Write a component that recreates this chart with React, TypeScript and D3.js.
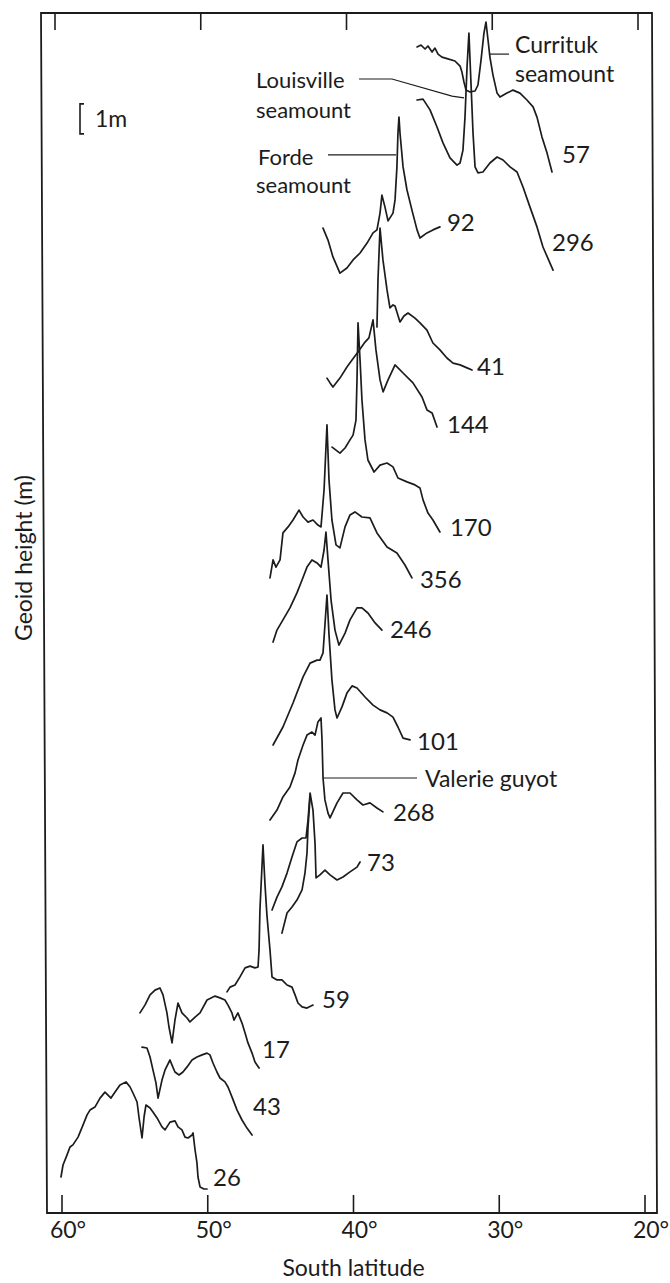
import React from "react";
import * as d3 from "d3";

type Pt = [number, number]; // [south latitude (deg), geoid height (m, stacked offset)]

const LAT_TICKS = [60, 50, 40, 30, 20];

const P57: Pt[] = [[35.64,38.87],[35.37,38.93],[35.09,38.80],[34.89,38.90],[34.61,38.70],[34.41,38.83],[34.20,38.63],[33.93,38.53],[33.52,38.47],[33.04,38.40],[32.69,38.23],[32.56,38.03],[32.42,37.70],[32.28,37.43],[32.01,37.37],[31.66,37.40],[31.46,37.60],[31.25,38.43],[31.05,39.33],[30.91,39.70],[30.77,39.10],[30.64,38.53],[30.43,37.93],[30.15,37.33],[29.95,37.20],[29.47,37.33],[29.06,37.43],[28.58,37.33],[28.10,37.10],[27.68,36.87],[27.41,36.53],[27.07,35.87],[26.72,35.33],[26.38,34.70]];
const P296: Pt[] = [[35.64,37.10],[35.23,37.13],[34.75,36.77],[34.27,36.20],[33.86,35.67],[33.38,35.17],[32.90,34.93],[32.69,35.00],[32.49,35.43],[32.35,36.53],[32.21,38.20],[32.08,39.33],[31.94,37.67],[31.80,36.00],[31.66,34.87],[31.46,34.67],[31.12,34.70],[30.64,35.00],[30.15,35.20],[29.74,35.10],[29.26,34.87],[28.78,34.70],[28.37,34.20],[27.89,33.53],[27.41,32.87],[27.00,32.20],[26.31,31.43]];
const P92: Pt[] = [[42.09,32.83],[41.75,32.43],[41.41,31.87],[40.93,31.33],[40.45,31.50],[40.03,31.77],[39.55,32.00],[39.07,32.33],[38.66,32.67],[38.39,32.77],[38.18,33.33],[38.05,33.93],[37.84,33.53],[37.63,33.07],[37.29,33.33],[37.15,33.77],[37.02,34.87],[36.95,36.00],[36.88,36.53],[36.81,36.00],[36.60,34.87],[36.33,34.10],[35.99,33.43],[35.64,32.77],[35.44,32.50],[34.96,32.67],[34.55,32.77],[34.07,32.87]];
const P41: Pt[] = [[38.39,29.53],[38.32,31.10],[38.18,32.83],[37.98,31.77],[37.70,30.77],[37.50,30.17],[37.29,30.27],[37.15,30.23],[36.81,29.70],[36.54,29.90],[36.26,30.00],[35.78,29.83],[35.44,29.67],[34.96,29.43],[34.55,29.00],[34.07,28.77],[33.59,28.50],[33.17,28.33],[32.69,28.27],[32.21,28.17],[31.87,28.10]];
const P144: Pt[] = [[41.82,27.83],[41.61,27.67],[41.41,27.53],[40.93,27.83],[40.45,28.20],[40.10,28.43],[39.69,28.70],[39.21,29.03],[38.94,29.17],[38.66,29.77],[38.46,28.77],[38.18,27.77],[37.97,27.37],[37.63,27.77],[37.15,28.27],[36.60,28.00],[35.92,27.67],[35.30,27.20],[34.96,26.77],[34.61,26.67],[34.27,26.20]];
const P170: Pt[] = [[41.47,25.53],[41.20,25.43],[40.93,25.33],[40.58,25.50],[40.24,25.77],[40.03,25.93],[39.83,26.43],[39.76,27.77],[39.69,29.67],[39.55,28.43],[39.42,27.10],[39.21,25.77],[39.01,25.10],[38.59,24.70],[38.18,24.93],[37.70,25.00],[37.29,24.87],[36.95,24.50],[36.33,24.37],[35.78,24.27],[35.44,24.17],[35.23,23.77],[34.89,23.33],[34.55,23.10],[34.07,22.70]];
const P356: Pt[] = [[45.73,21.17],[45.52,21.77],[45.32,21.53],[45.04,21.77],[44.84,22.67],[44.49,22.87],[44.15,23.10],[43.74,23.43],[43.46,23.20],[43.12,23.03],[42.78,23.10],[42.44,22.93],[42.23,22.87],[42.02,24.10],[41.82,26.27],[41.68,24.43],[41.48,23.10],[41.20,22.27],[40.93,22.17],[40.58,22.87],[40.24,23.27],[39.90,23.37],[39.42,23.20],[38.87,23.17],[38.39,22.67],[37.70,22.20],[37.02,22.00],[36.47,21.60],[35.99,21.17]];
const P246: Pt[] = [[45.52,19.03],[45.25,19.43],[44.84,19.77],[44.36,20.17],[43.88,20.67],[43.53,21.10],[43.19,21.53],[42.85,21.77],[42.50,21.67],[42.23,21.53],[42.02,22.10],[41.89,22.70],[41.75,21.77],[41.54,20.43],[41.27,19.43],[41.00,18.93],[40.58,19.33],[40.24,19.77],[39.76,20.17],[39.42,20.17],[39.01,20.00],[38.52,19.67],[38.05,19.43]];
const P101: Pt[] = [[45.52,15.60],[44.84,16.20],[44.15,17.00],[43.46,17.87],[42.98,18.33],[42.50,18.43],[42.30,18.43],[42.09,18.67],[41.96,19.60],[41.82,20.60],[41.68,19.27],[41.48,17.77],[41.27,16.77],[41.13,16.50],[40.79,16.87],[40.45,17.33],[40.10,17.57],[39.76,17.50],[39.21,17.20],[38.66,16.93],[38.18,16.77],[37.70,16.67],[37.29,16.53],[36.95,16.20],[36.60,15.83],[36.12,15.77]];
const P268: Pt[] = [[45.73,13.10],[45.25,13.43],[44.84,13.87],[44.36,14.20],[44.01,14.67],[43.81,15.10],[43.46,15.60],[43.19,15.93],[42.85,16.03],[42.64,15.93],[42.44,16.37],[42.23,16.50],[42.16,15.77],[42.09,14.50],[41.96,13.77],[41.75,13.33],[41.61,13.17],[41.13,13.67],[40.72,14.00],[40.24,14.00],[39.76,13.77],[39.35,13.60],[38.87,13.67],[38.39,13.50],[37.98,13.37]];
const P73A: Pt[] = [[45.59,10.10],[45.25,10.53],[44.91,10.87],[44.56,11.33],[44.22,11.87],[43.88,12.37],[43.53,12.50],[43.26,12.50],[43.12,13.10],[42.98,14.00],[42.78,13.43],[42.64,12.33],[42.57,11.17],[42.30,11.27],[41.96,11.43],[41.61,11.27],[41.13,11.10],[40.72,11.20],[40.24,11.37],[39.76,11.53],[39.55,11.70]];
const P73B: Pt[] = [[44.91,9.33],[44.56,10.00],[44.22,10.20],[43.88,10.43],[43.53,10.77],[43.33,11.33],[43.19,12.00],[43.12,12.87],[42.98,13.87]];
const P59: Pt[] = [[48.68,7.37],[48.47,7.53],[48.13,7.60],[47.79,7.87],[47.44,8.17],[47.10,8.23],[46.76,8.17],[46.55,8.20],[46.48,8.77],[46.42,10.10],[46.21,12.27],[46.07,10.93],[45.94,9.93],[45.73,8.77],[45.59,7.87],[45.25,7.77],[44.91,7.77],[44.56,7.60],[44.22,7.53],[44.01,7.27],[43.81,7.00],[43.53,6.87],[43.19,6.83],[42.78,6.93]];
const P17: Pt[] = [[54.65,6.67],[54.31,6.93],[53.96,7.27],[53.62,7.43],[53.28,7.50],[53.07,7.27],[52.80,6.67],[52.66,6.20],[52.45,5.67],[52.25,6.43],[52.04,7.00],[51.77,6.67],[51.42,6.50],[51.22,6.37],[50.87,6.53],[50.53,6.67],[50.05,7.10],[49.50,7.23],[49.16,7.17],[48.82,7.10],[48.61,6.93],[48.34,6.67],[48.20,6.43],[47.93,6.67],[47.65,6.33],[47.44,6.00],[47.24,5.67],[46.96,5.33],[46.76,5.03],[46.48,4.83]];
const P43: Pt[] = [[54.51,5.53],[54.17,5.50],[53.96,5.20],[53.76,4.77],[53.55,4.33],[53.41,3.83],[53.14,4.43],[52.93,4.77],[52.59,5.10],[52.45,4.93],[52.25,4.70],[51.97,4.60],[51.70,4.70],[51.42,4.87],[51.08,5.10],[50.74,5.20],[50.39,5.27],[50.05,5.33],[49.85,5.27],[49.64,5.00],[49.37,4.70],[49.16,4.50],[48.82,4.37],[48.61,4.20],[48.34,3.87],[47.99,3.43],[47.65,3.10],[47.31,2.83],[46.96,2.60]];
const P26: Pt[] = [[60.07,1.20],[59.93,1.60],[59.66,1.93],[59.45,2.20],[59.25,2.27],[58.90,2.53],[58.56,2.93],[58.28,3.27],[58.08,3.43],[57.74,3.53],[57.39,3.83],[57.05,4.03],[56.64,3.83],[56.36,4.03],[56.02,4.27],[55.61,4.37],[55.33,4.20],[55.13,4.00],[54.85,3.70],[54.72,3.20],[54.51,2.50],[54.37,3.20],[54.24,3.60],[53.96,3.50],[53.76,3.37],[53.48,3.17],[53.14,2.87],[52.93,2.77],[52.59,3.03],[52.25,3.07],[52.04,2.87],[51.77,2.77],[51.56,2.53],[51.35,2.50],[51.08,2.60],[51.01,2.67],[50.87,2.10],[50.74,1.67],[50.67,1.20],[50.53,0.87],[50.26,0.80],[50.05,0.80]];

const PROFILES: { name: string; segments: Pt[][] }[] = [
  { name: "57", segments: [P57] },
  { name: "296", segments: [P296] },
  { name: "92", segments: [P92] },
  { name: "41", segments: [P41] },
  { name: "144", segments: [P144] },
  { name: "170", segments: [P170] },
  { name: "356", segments: [P356] },
  { name: "246", segments: [P246] },
  { name: "101", segments: [P101] },
  { name: "268", segments: [P268] },
  { name: "73", segments: [P73A, P73B] },
  { name: "59", segments: [P59] },
  { name: "17", segments: [P17] },
  { name: "43", segments: [P43] },
  { name: "26", segments: [P26] },
];

// Pointer lines for seamount annotations (lat, m)
const LOUISVILLE_PTR: Pt[] = [[39.62,37.80],[37.36,37.80],[33.24,37.23],[32.42,37.17]];
const FORDE_PTR: Pt[] = [[41.75,35.27],[37.08,35.27]];
const CURRITUK_PTR: Pt[] = [[30.70,38.63],[29.33,38.63]];
const VALERIE_PTR: Pt[] = [[42.09,14.50],[35.64,14.50]];
const SCALE_BAR_M: [number, number] = [35.97, 36.97];

// ---- layout (styling, not data) ----
const W = 670, H = 1283;
const LEFT_T = 41, LEFT_B = 47, RIGHT_T = 652, RIGHT_B = 657, TOP = 13, BOTTOM = 1213;
const SKEW_TOP = -7;
const LABEL_OFF: Record<string, [number, number]> = {
  "57": [10, -17], "296": [-1, -27], "92": [7, -4], "41": [5, -3], "144": [10, -2],
  "170": [10, -4], "356": [8, 2], "246": [8, 0], "101": [7, 2], "268": [10, 1],
  "73": [7, 1], "59": [9, -5], "17": [3, -18], "43": [1, -28], "26": [6, -11],
};

const x = d3.scaleLinear().domain([60, 20]).range([62, 645]);
const y = d3.scaleLinear().domain([0, 40]).range([BOTTOM, TOP]);
const line = d3.line<Pt>().x(d => x(d[0])).y(d => y(d[1]));

const INK = "#1c1c1c";
const FONT = "Lato, 'Open Sans', 'DejaVu Sans', sans-serif";

export default function App() {
  const frame = `M${LEFT_T},${TOP} L${RIGHT_T},${TOP} L${RIGHT_B},${BOTTOM} L${LEFT_B},${BOTTOM} Z`;
  const barTop = y(SCALE_BAR_M[1]);
  const barBot = y(SCALE_BAR_M[0]);
  return (
    <svg width={W} height={H} style={{ position: "absolute", left: 0, top: 0, background: "#fff" }} fontFamily={FONT}>
      <rect width={W} height={H} fill="#fff" />
      <path d={frame} fill="none" stroke={INK} strokeWidth={1.8} />
      {LAT_TICKS.map(t => (
        <g key={t}>
          <line x1={x(t)} x2={x(t)} y1={BOTTOM} y2={BOTTOM - 18} stroke={INK} strokeWidth={1.6} />
          <line x1={x(t) + SKEW_TOP} x2={x(t) + SKEW_TOP} y1={TOP} y2={TOP + 17} stroke={INK} strokeWidth={1.6} />
          <text x={x(t) + 6} y={BOTTOM + 25} fontSize={23} textAnchor="middle" fill={INK}>{`${t}°`}</text>
        </g>
      ))}
      <text x={x(40)} y={BOTTOM + 63} fontSize={23} textAnchor="middle" fill={INK}>South latitude</text>
      <text transform={`translate(32,558) rotate(-90)`} fontSize={23} textAnchor="middle" fill={INK}>Geoid height (m)</text>

      {PROFILES.map(p => (
        <g key={p.name}>
          {p.segments.map((s, i) => (
            <path key={i} d={line(s) || ""} fill="none" stroke={INK} strokeWidth={1.7} strokeLinejoin="round" strokeLinecap="round" />
          ))}
          {(() => {
            const end = p.segments[0][p.segments[0].length - 1];
            const off = LABEL_OFF[p.name];
            return (
              <text x={x(end[0]) + off[0]} y={y(end[1]) + off[1] + 8} fontSize={24} fill={INK}>{p.name}</text>
            );
          })()}
        </g>
      ))}

      {[LOUISVILLE_PTR, FORDE_PTR, CURRITUK_PTR, VALERIE_PTR].map((ptr, i) => (
        <path key={i} d={line(ptr) || ""} fill="none" stroke={INK} strokeWidth={1.2} />
      ))}
      <text x={256} y={88} fontSize={22} fill={INK}>Louisville</text>
      <text x={256} y={118} fontSize={22} fill={INK}>seamount</text>
      <text x={258} y={165} fontSize={22} fill={INK}>Forde</text>
      <text x={256} y={193} fontSize={22} fill={INK}>seamount</text>
      <text x={515} y={53} fontSize={23} fill={INK}>Currituk</text>
      <text x={515} y={82} fontSize={23} fill={INK}>seamount</text>
      <text x={425} y={787} fontSize={23} fill={INK}>Valerie guyot</text>

      <path d={`M84,${barTop} L80,${barTop} L80,${barBot} L84,${barBot}`} fill="none" stroke={INK} strokeWidth={1.6} />
      <text x={95} y={127} fontSize={23} fill={INK}>1m</text>
    </svg>
  );
}
